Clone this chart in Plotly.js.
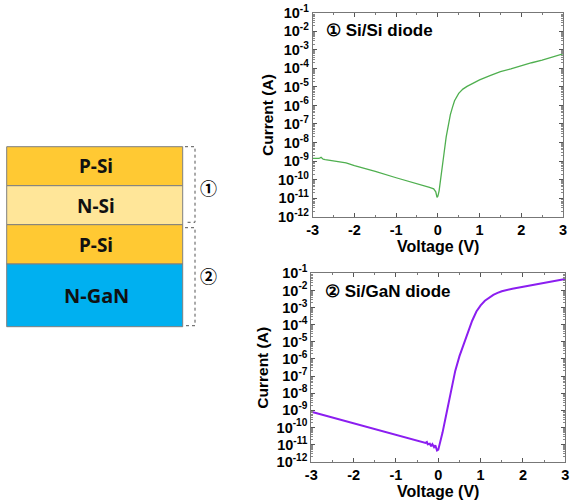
<!DOCTYPE html>
<html>
<head>
<meta charset="utf-8">
<script src="https://cdn.plot.ly/plotly-3.0.1.min.js"></script>
<style>
html,body{margin:0;padding:0;background:#fff;}
#chart{width:570px;height:501px;}
</style>
</head>
<body>
<div id="chart"></div>
<script>
// ---------- data ----------
const siSiVoltage = [-3, -2.9, -2.85, -2.8, -2.75, -2.7, -2.5, -2.2, -2.0, -1.5, -1.0, -0.5, -0.2, -0.1, -0.05, -0.02, 0, 0.03, 0.06, 0.1, 0.15, 0.2, 0.25, 0.3, 0.35, 0.4, 0.5, 0.6, 0.7, 0.8, 1.0, 1.25, 1.5, 1.75, 2.0, 2.25, 2.5, 2.75, 3.0];
const siSiCurrent = [1.41e-9, 1.32e-9, 1.38e-9, 1.58e-9, 1.26e-9, 1.20e-9, 1.05e-9, 7.9e-10, 5.6e-10, 2.8e-10, 1.26e-10, 6.3e-11, 3.8e-11, 3.2e-11, 2.2e-11, 1.12e-11, 1.26e-11, 2.5e-11, 1.0e-10, 4.5e-10, 2.8e-9, 2.0e-8, 8.9e-8, 3.2e-7, 7.9e-7, 1.78e-6, 4.5e-6, 7.6e-6, 1.07e-5, 1.41e-5, 2.4e-5, 4.0e-5, 6.6e-5, 9.3e-5, 1.41e-4, 2.0e-4, 2.8e-4, 4.2e-4, 6.0e-4];

const siGaNVoltage = [-3, -2.5, -2, -1.5, -1, -0.5, -0.35, -0.3, -0.27, -0.25, -0.2, -0.17, -0.14, -0.1, -0.07, -0.05, -0.03, 0, 0.03, 0.06, 0.1, 0.2, 0.3, 0.4, 0.5, 0.6, 0.7, 0.8, 0.9, 1.0, 1.1, 1.2, 1.3, 1.4, 1.5, 1.75, 2.0, 2.5, 3.0];
const siGaNCurrent = [8.3e-10, 3.8e-10, 1.74e-10, 7.9e-11, 3.6e-11, 1.66e-11, 1.32e-11, 1.26e-11, 1.41e-11, 1.05e-11, 1.12e-11, 7.9e-12, 1.05e-11, 7.1e-12, 8.9e-12, 5.0e-12, 4.5e-12, 5.0e-12, 1.0e-11, 2.0e-11, 5.0e-11, 7.9e-10, 1.26e-8, 2.0e-7, 1.45e-6, 7.4e-6, 3.7e-5, 1.7e-4, 5.9e-4, 1.35e-3, 2.5e-3, 3.9e-3, 5.5e-3, 7.2e-3, 8.9e-3, 1.26e-2, 1.66e-2, 2.8e-2, 4.7e-2];

const xTickVals = [-3, -2, -1, 0, 1, 2, 3];
const xTickText = ['-3', '-2', '-1', '0', '1', '2', '3'];
const yExponents = [-1, -2, -3, -4, -5, -6, -7, -8, -9, -10, -11, -12];

const layerNames = ['P-Si', 'N-Si', 'P-Si', 'N-GaN'];
const layerColors = ['#FFC933', '#FFE699', '#FFC933', '#00B0F0'];

const plot1Label = '① Si/Si diode';
const plot2Label = '② Si/GaN diode';
const xTitle = 'Voltage (V)';
const yTitle = 'Current (A)';

// ---------- helpers (pixel -> paper) ----------
const W = 570, H = 501;
const px = x => x / W;
const py = y => 1 - y / H;

const yTickVals = yExponents.map(e => Math.pow(10, e));
const yTickText = yExponents.map(e => '10<sup>' + e + '</sup>');

const tickFontX = {family: 'Liberation Sans, Arial, sans-serif', size: 14.5, color: '#000', weight: 'bold'};
const tickFontY = {family: 'Liberation Sans, Arial, sans-serif', size: 14.5, color: '#000', weight: 'bold'};

function xAxis(domain, anchor) {
  return {
    domain: domain, anchor: anchor, range: [-3, 3],
    tickvals: xTickVals, ticktext: xTickText,
    ticks: 'inside', ticklen: 4, tickwidth: 1, tickcolor: '#555',
    minor: {dtick: 0.5, ticks: 'inside', ticklen: 2, tickcolor: '#777', showgrid: false},
    showline: true, linecolor: '#777', linewidth: 1, mirror: 'allticks',
    showgrid: false, zeroline: false, tickfont: tickFontX, fixedrange: true
  };
}
function yAxis(domain, anchor) {
  return {
    domain: domain, anchor: anchor, type: 'log', range: [-12, -1],
    tickvals: yTickVals, ticktext: yTickText,
    ticks: 'inside', ticklen: 4, tickwidth: 1, tickcolor: '#555',
    minor: {dtick: 'D1', ticks: 'inside', ticklen: 2, tickcolor: '#888', showgrid: false},
    showline: true, linecolor: '#777', linewidth: 1, mirror: 'allticks',
    showgrid: false, zeroline: false, tickfont: tickFontY, fixedrange: true
  };
}

const traces = [
  {x: siSiVoltage, y: siSiCurrent, xaxis: 'x', yaxis: 'y', type: 'scatter', mode: 'lines',
   line: {color: '#4FAF4F', width: 1.3}, showlegend: false, hoverinfo: 'skip'},
  {x: siGaNVoltage, y: siGaNCurrent, xaxis: 'x2', yaxis: 'y2', type: 'scatter', mode: 'lines',
   line: {color: '#8B1EF0', width: 2}, showlegend: false, hoverinfo: 'skip'}
];

// ---------- left layer stack ----------
const boxLeft = 6.7, boxRight = 182.7;
const layerEdges = [146.7, 185.7, 224.7, 264, 326.7];
const layerTextY = [166.2, 205.5, 244.8, 295.5];
const shapes = [];
const annotations = [];
for (let i = 0; i < layerNames.length; i++) {
  shapes.push({type: 'rect', xref: 'paper', yref: 'paper',
    x0: px(boxLeft), x1: px(boxRight), y0: py(layerEdges[i + 1]), y1: py(layerEdges[i]),
    fillcolor: layerColors[i], line: {color: '#7F7F7F', width: 1}, layer: 'above'});
  annotations.push({xref: 'paper', yref: 'paper', x: px(96), y: py(layerTextY[i]),
    text: layerNames[i], showarrow: false, xanchor: 'center', yanchor: 'middle',
    font: {family: 'Noto Sans, Open Sans, sans-serif', size: i === 3 ? 20 : 19, color: '#111', weight: 'bold'}});
}
// dashed brackets
function bracket(y0, y1) {
  const xa = 185, xb = 195;
  const path = 'M ' + px(xa) + ' ' + py(y0) + ' L ' + px(xb) + ' ' + py(y0) +
               ' L ' + px(xb) + ' ' + py(y1) + ' L ' + px(xa) + ' ' + py(y1);
  shapes.push({type: 'path', xref: 'paper', yref: 'paper', path: path,
    line: {color: '#555', width: 1, dash: 'dot'}});
}
bracket(146.7, 222.3);
bracket(227.7, 325.7);
const circFont = {family: 'Noto Sans CJK KR, DejaVu Sans, sans-serif', size: 17, color: '#000', weight: 'bold'};
annotations.push({xref: 'paper', yref: 'paper', x: px(208.3), y: py(188), text: '①', showarrow: false,
  xanchor: 'center', yanchor: 'middle', font: circFont});
annotations.push({xref: 'paper', yref: 'paper', x: px(208.3), y: py(275.7), text: '②', showarrow: false,
  xanchor: 'center', yanchor: 'middle', font: circFont});

// ---------- plot labels and axis titles ----------
const titleFont = {family: 'Liberation Sans, Arial, sans-serif', size: 15.5, color: '#000'};
const labelFont = {family: 'Liberation Sans, Arial, sans-serif', size: 17, color: '#000'};
annotations.push({xref: 'paper', yref: 'paper', x: px(324), y: py(30), text: '<b>' + plot1Label + '</b>',
  showarrow: false, xanchor: 'left', yanchor: 'middle', font: labelFont});
annotations.push({xref: 'paper', yref: 'paper', x: px(322.7), y: py(291), text: '<b>' + plot2Label + '</b>',
  showarrow: false, xanchor: 'left', yanchor: 'middle', font: labelFont});
annotations.push({xref: 'paper', yref: 'paper', x: px(267.3), y: py(114.7), text: '<b>' + yTitle + '</b>',
  showarrow: false, textangle: -90, xanchor: 'center', yanchor: 'middle', font: titleFont});
annotations.push({xref: 'paper', yref: 'paper', x: px(261.7), y: py(368), text: '<b>' + yTitle + '</b>',
  showarrow: false, textangle: -90, xanchor: 'center', yanchor: 'middle', font: titleFont});
annotations.push({xref: 'paper', yref: 'paper', x: px(438), y: py(246.5), text: '<b>' + xTitle + '</b>',
  showarrow: false, xanchor: 'center', yanchor: 'middle', font: Object.assign({}, titleFont, {size: 16})});
annotations.push({xref: 'paper', yref: 'paper', x: px(438.3), y: py(491.5), text: '<b>' + xTitle + '</b>',
  showarrow: false, xanchor: 'center', yanchor: 'middle', font: Object.assign({}, titleFont, {size: 16})});

const layout = {
  width: W, height: H,
  margin: {l: 0, r: 0, t: 0, b: 0, pad: 0},
  paper_bgcolor: '#fff', plot_bgcolor: '#fff',
  showlegend: false,
  xaxis: xAxis([px(312.7), px(563)], 'y'),
  yaxis: yAxis([py(216.7), py(12.7)], 'x'),
  xaxis2: xAxis([px(311.3), px(565.3)], 'y2'),
  yaxis2: yAxis([py(461.7), py(273.3)], 'x2'),
  shapes: shapes,
  annotations: annotations
};

Plotly.newPlot('chart', traces, layout, {staticPlot: true, displayModeBar: false});
</script>
</body>
</html>
